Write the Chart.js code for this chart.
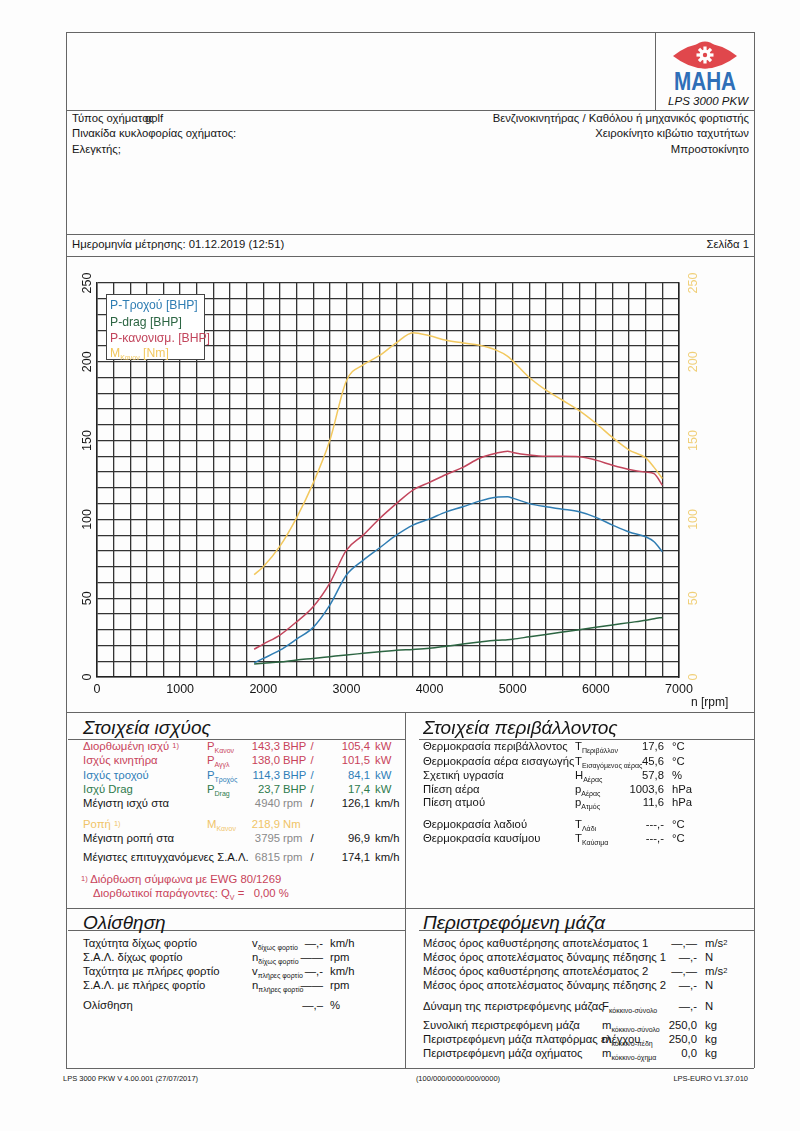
<!DOCTYPE html>
<html>
<head>
<meta charset="utf-8">
<script src="https://cdn.jsdelivr.net/npm/chart.js@4.4.1/dist/chart.umd.min.js"></script>
<style>
body { margin: 0; background: #fff; }
#page { position: relative; width: 800px; height: 1131px; font-family: "Liberation Sans", Arial, sans-serif; font-size: 11.3px; color: #151515; background: #fdfdfd; overflow: hidden; }
.t { position: absolute; white-space: nowrap; line-height: 1; }
.hl { position: absolute; height: 0; border-top: 1px solid #666; }
.vl { position: absolute; width: 0; border-left: 1px solid #666; }
sub { font-size: 7px; vertical-align: -3px; line-height: 0; }
.sup { font-size: 7.5px; vertical-align: 2px; }
#chartBox { position: absolute; left: 67px; top: 257px; width: 686px; height: 454px; }
#legend { position: absolute; left: 106px; top: 294px; width: 97px; height: 64px; border: 1px solid #444; background: #fff; font-size: 12.2px; }
#legend div { position: absolute; left: 3px; white-space: nowrap; line-height: 1; }
</style>
</head>
<body>
<div id="page">
  <div id="chartBox"><canvas id="c"></canvas></div>
  <div id="legend"></div>
  <svg style="position:absolute;left:668px;top:39px" width="74" height="56" viewBox="0 0 74 56">
    <path d="M5 17 Q37 -8 69 17 Q37 42 5 17 Z" fill="#e0474c"/>
    <circle cx="37" cy="16" r="13.5" fill="#e0474c"/>
    <g fill="#fff" transform="translate(37,16)">
      <circle r="5.5"/>
      <rect x="-1.6" y="-8.5" width="3.2" height="17"/>
      <rect x="-8.5" y="-1.6" width="17" height="3.2"/>
      <rect x="-1.6" y="-8.5" width="3.2" height="17" transform="rotate(45)"/>
      <rect x="-1.6" y="-8.5" width="3.2" height="17" transform="rotate(-45)"/>
    </g>
    <circle cx="37" cy="16" r="2.2" fill="#e0474c"/>
    <text x="37" y="51" text-anchor="middle" font-family="Liberation Sans, Arial" font-weight="bold" font-size="25" fill="#2f6fb8" textLength="62" lengthAdjust="spacingAndGlyphs">MAHA</text>
  </svg>
</div>
<script>
const rpm = [1890, 2000, 2200, 2400, 2600, 2800, 3000, 3200, 3400, 3600, 3800, 4000, 4200, 4400,
             4600, 4800, 4940, 5000, 5200, 5400, 5600, 5800, 6000, 6200, 6400, 6600, 6700, 6800];
const pWheel = [9, 11.8, 17, 24, 31.5, 45.6, 64.7, 74, 82, 90, 96.4, 100.3, 104.8, 108,
                111.6, 114, 114.3, 113.5, 110, 108, 106.5, 104.8, 101.3, 96.4, 92, 89, 85.8, 79.5];
const pDrag = [8.2, 8.7, 9.5, 10.8, 11.8, 12.9, 14, 15, 16, 17, 17.5, 18.2, 19.5, 20.9,
               22.2, 23.3, 23.7, 24, 25.5, 27, 28.5, 30, 31.5, 33, 34.5, 36, 37, 37.8];
const pNorm = [17.6, 20.9, 26.6, 35, 44.6, 59.6, 80.5, 90, 100.6, 110, 118.6, 123.5, 128.5, 133,
               138.8, 142, 143.3, 142.5, 140.8, 140, 140, 139.8, 137.6, 134.4, 131.7, 130, 129, 121.7];
const torque = [65, 70, 83, 101, 123, 150, 188, 198, 204, 212, 218.5, 216.5, 213.7, 212,
                210.5, 207.4, 203.5, 200.6, 190, 182, 175.6, 169, 161, 152, 144, 139, 133, 126];

const seriesNames = ['P-Τροχού [BHP]', 'P-drag [BHP]', 'P-κανονισμ. [BHP]', 'M<sub>Κανον</sub> [Nm]'];
const seriesColors = ['#2f7db3', '#2c6542', '#c2455c', '#f2c85e'];

const BLUE = '#2f7db8', RED = '#c8435a', GREEN = '#2e7a4c', YEL = '#f0c468', GRAY = '#8a8a8a', BLK = '#151515';

const page = document.getElementById('page');

function put(x, y, html, align, style) {
  const el = document.createElement('div');
  el.className = 't';
  el.innerHTML = html;
  const tx = align === 'r' ? '-100%' : align === 'c' ? '-50%' : '0';
  el.style.left = x + 'px';
  el.style.top = y + 'px';
  el.style.transform = 'translate(' + tx + ',-50%)';
  if (style) el.style.cssText += style;
  page.appendChild(el);
}
function hline(x1, x2, y) {
  const el = document.createElement('div');
  el.className = 'hl';
  el.style.cssText += 'left:' + x1 + 'px;width:' + (x2 - x1) + 'px;top:' + y + 'px';
  page.appendChild(el);
}
function vline(x, y1, y2) {
  const el = document.createElement('div');
  el.className = 'vl';
  el.style.cssText += 'left:' + x + 'px;top:' + y1 + 'px;height:' + (y2 - y1) + 'px';
  page.appendChild(el);
}

// frame
hline(66, 754, 32); hline(66, 754, 1068);
vline(66, 32, 1068); vline(754, 32, 1068);
vline(655, 32, 110);
hline(66, 754, 110); hline(66, 754, 234); hline(66, 754, 256); hline(66, 754, 712);
hline(66, 754, 908);
vline(405, 712, 1068);
hline(68, 405, 739); hline(419, 754, 739);
hline(68, 405, 930); hline(419, 754, 930);

put(748, 102, 'LPS 3000 PKW', 'r', 'font-style:italic;font-size:11.5px');

put(72, 119, 'Τύπος οχήματος');
put(145, 119, 'golf');
put(72, 134, 'Πινακίδα κυκλοφορίας οχήματος:');
put(72, 150, 'Ελεγκτής;');
put(749, 119, 'Βενζινοκινητήρας / Καθόλου ή μηχανικός φορτιστής', 'r');
put(749, 134, 'Χειροκίνητο κιβώτιο ταχυτήτων', 'r');
put(749, 150, 'Μπροστοκίνητο', 'r');

put(72, 245, 'Ημερομηνία μέτρησης: 01.12.2019 (12:51)');
put(749, 245, 'Σελίδα 1', 'r');

put(691, 702, 'n [rpm]', 'l', 'font-size:12px');

// legend
const lg = document.getElementById('legend');
[10, 27, 43, 58].forEach((y, i) => {
  const d = document.createElement('div');
  d.style.top = (y - 6) + 'px';
  d.style.color = seriesColors[i];
  d.innerHTML = seriesNames[i];
  lg.appendChild(d);
});

// Στοιχεία ισχύος
put(83, 727, 'Στοιχεία ισχύος', 'l', 'font-style:italic;font-size:19px');
const pw = [
  [747, 'Διορθωμένη ισχύ <span class="sup">1)</span>', 'P<sub>Κανον</sub>', '143,3', 'BHP', '105,4', 'kW', RED, RED],
  [761, 'Ισχύς κινητήρα', 'P<sub>Αγγλ</sub>', '138,0', 'BHP', '101,5', 'kW', RED, RED],
  [776, 'Ισχύς τροχού', 'P<sub>Τροχός</sub>', '114,3', 'BHP', '84,1', 'kW', BLUE, BLUE],
  [790, 'Ισχύ Drag', 'P<sub>Drag</sub>', '23,7', 'BHP', '17,4', 'kW', GREEN, GREEN],
  [804, 'Μέγιστη ισχύ στα', '', '4940', 'rpm', '126,1', 'km/h', BLK, GRAY],
  [839, 'Μέγιστη ροπή στα', '', '3795', 'rpm', '96,9', 'km/h', BLK, GRAY],
  [858, 'Μέγιστες επιτυγχανόμενες Σ.Α.Λ.', '', '6815', 'rpm', '174,1', 'km/h', BLK, GRAY]
];
pw.forEach(r => {
  const [y, lab, sym, v1, u1, v2, u2, c, c1] = r;
  put(83, y, lab, 'l', 'color:' + c);
  if (sym) put(207, y, sym, 'l', 'color:' + c);
  put(280, y, v1, 'r', 'color:' + c1);
  put(283, y, u1, 'l', 'color:' + c1);
  put(312, y, '/', 'c', 'color:' + c);
  put(370, y, v2, 'r', 'color:' + c);
  put(375, y, u2, 'l', 'color:' + c);
});
put(83, 825, 'Ροπή <span class="sup">1)</span>', 'l', 'color:' + YEL);
put(207, 825, 'M<sub>Κανον</sub>', 'l', 'color:' + YEL);
put(280, 825, '218,9', 'r', 'color:' + YEL);
put(283, 825, 'Nm', 'l', 'color:' + YEL);
put(81, 880, '<span class="sup">1)</span> Διόρθωση σύμφωνα με EWG 80/1269', 'l', 'color:' + RED);
put(93, 894, 'Διορθωτικοί παράγοντες: Q<sub>V</sub> =&nbsp;&nbsp; 0,00 %', 'l', 'color:' + RED);

// Στοιχεία περιβάλλοντος
put(423, 727, 'Στοιχεία περιβάλλοντος', 'l', 'font-style:italic;font-size:19px');
const env = [
  [747, 'Θερμοκρασία περιβάλλοντος', 'T<sub>Περιβάλλον</sub>', '17,6', '°C'],
  [762, 'Θερμοκρασία αέρα εισαγωγής', 'T<sub>Εισαγόμενος αέρας</sub>', '45,6', '°C'],
  [776, 'Σχετική υγρασία', 'H<sub>Αέρας</sub>', '57,8', '%'],
  [790, 'Πίεση αέρα', 'p<sub>Αέρας</sub>', '1003,6', 'hPa'],
  [803, 'Πίεση ατμού', 'p<sub>Ατμός</sub>', '11,6', 'hPa'],
  [825, 'Θερμοκρασία λαδιού', 'T<sub>Λάδι</sub>', '---,-', '°C'],
  [839, 'Θερμοκρασία καυσίμου', 'T<sub>Καύσιμα</sub>', '---,-', '°C']
];
env.forEach(([y, lab, sym, v, u]) => {
  put(423, y, lab);
  put(575, y, sym);
  put(664, y, v, 'r');
  put(672, y, u);
});

// Ολίσθηση
put(83, 922, 'Ολίσθηση', 'l', 'font-style:italic;font-size:19px');
const slip = [
  [944, 'Ταχύτητα δίχως φορτίο', 'v<sub>δίχως φορτίο</sub>', '—,-', 'km/h'],
  [958, 'Σ.Α.Λ. δίχως φορτίο', 'n<sub>δίχως φορτίο</sub>', '——', 'rpm'],
  [972, 'Ταχύτητα με πλήρες φορτίο', 'v<sub>πλήρες φορτίο</sub>', '—,-', 'km/h'],
  [986, 'Σ.Α.Λ. με πλήρες φορτίο', 'n<sub>πλήρες φορτίο</sub>', '——', 'rpm'],
  [1006, 'Ολίσθηση', '', '—,–', '%']
];
slip.forEach(([y, lab, sym, v, u]) => {
  put(83, y, lab);
  if (sym) put(252, y, sym);
  put(323, y, v, 'r');
  put(330, y, u);
});

// Περιστρεφόμενη μάζα
put(423, 922, 'Περιστρεφόμενη μάζα', 'l', 'font-style:italic;font-size:19px');
const mass = [
  [944, 'Μέσος όρος καθυστέρησης αποτελέσματος 1', '', '—,—', 'm/s<span class="sup">2</span>'],
  [958, 'Μέσος όρος αποτελέσματος δύναμης πέδησης 1', '', '—,-', 'N'],
  [972, 'Μέσος όρος καθυστέρησης αποτελέσματος 2', '', '—,—', 'm/s<span class="sup">2</span>'],
  [986, 'Μέσος όρος αποτελέσματος δύναμης πέδησης 2', '', '—,-', 'N'],
  [1007, 'Δύναμη της περιστρεφόμενης μάζας', 'F<sub>κόκκινο-σύνολο</sub>', '—,-', 'N'],
  [1026, 'Συνολική περιστρεφόμενη μάζα', 'm<sub>κόκκινο-σύνολο</sub>', '250,0', 'kg'],
  [1040, 'Περιστρεφόμενη μάζα πλατφόρμας ελέγχου', 'm<sub>κόκκινο-πέδη</sub>', '250,0', 'kg'],
  [1054, 'Περιστρεφόμενη μάζα οχήματος', 'm<sub>κόκκινο-όχημα</sub>', '0,0', 'kg']
];
mass.forEach(([y, lab, sym, v, u]) => {
  put(423, y, lab);
  if (sym) put(602, y, sym);
  put(697, y, v, 'r');
  put(705, y, u);
});

put(63, 1079, 'LPS 3000 PKW V 4.00.001 (27/07/2017)', 'l', 'font-size:7.5px');
put(458, 1079, '(100/000/0000/000/0000)', 'c', 'font-size:7.5px');
put(748, 1079, 'LPS-EURO V1.37.010', 'r', 'font-size:7.5px');

// chart
const pts = arr => rpm.map((r, i) => ({ x: r, y: arr[i] }));
const lineDs = (label, arr, color, axis) => ({
  label, data: pts(arr), borderColor: color, borderWidth: 1.5,
  pointRadius: 0, cubicInterpolationMode: 'monotone', fill: false, yAxisID: axis
});

new Chart(document.getElementById('c'), {
  type: 'line',
  data: {
    datasets: [
      lineDs('M', torque, seriesColors[3], 'y2'),
      lineDs('P-drag', pDrag, seriesColors[1], 'y'),
      lineDs('P-norm', pNorm, seriesColors[2], 'y'),
      lineDs('P-wheel', pWheel, seriesColors[0], 'y')
    ]
  },
  options: {
    responsive: true,
    maintainAspectRatio: false,
    animation: false,
    layout: { padding: { top: 26, right: 50, left: 0, bottom: 0 } },
    plugins: { legend: { display: false }, tooltip: { enabled: false } },
    scales: {
      x: {
        type: 'linear', min: 0, max: 7000,
        afterFit: s => { s.height = 34; },
        ticks: {
          stepSize: 200, autoSkip: false, maxRotation: 0, padding: 5,
          color: BLK, font: { family: 'Liberation Sans', size: 12.5 },
          callback: v => (v % 1000 === 0 ? String(v) : '')
        },
        grid: { color: '#333', lineWidth: 1.3, drawTicks: false },
        border: { color: '#222', width: 1.5 }
      },
      y: {
        position: 'left', min: 0, max: 250,
        afterFit: s => { s.width = 30; },
        ticks: {
          stepSize: 10, autoSkip: false, minRotation: 90, maxRotation: 90,
          crossAlign: 'center', padding: -1,
          color: BLK, font: { family: 'Liberation Sans', size: 12.5 },
          callback: v => (v % 50 === 0 ? String(v) : '')
        },
        grid: { color: '#333', lineWidth: 1.3, drawTicks: false },
        border: { color: '#222', width: 1.5 }
      },
      y2: {
        position: 'right', min: 0, max: 250,
        afterFit: s => { s.width = 24; },
        ticks: {
          stepSize: 10, autoSkip: false, minRotation: 90, maxRotation: 90,
          crossAlign: 'center', padding: 4,
          color: '#f0cf78', font: { family: 'Liberation Sans', size: 12.5 },
          callback: v => (v % 50 === 0 ? String(v) : '')
        },
        grid: { drawOnChartArea: false, drawTicks: false },
        border: { color: '#222', width: 1.5 }
      }
    }
  }
});
</script>
</body>
</html>
